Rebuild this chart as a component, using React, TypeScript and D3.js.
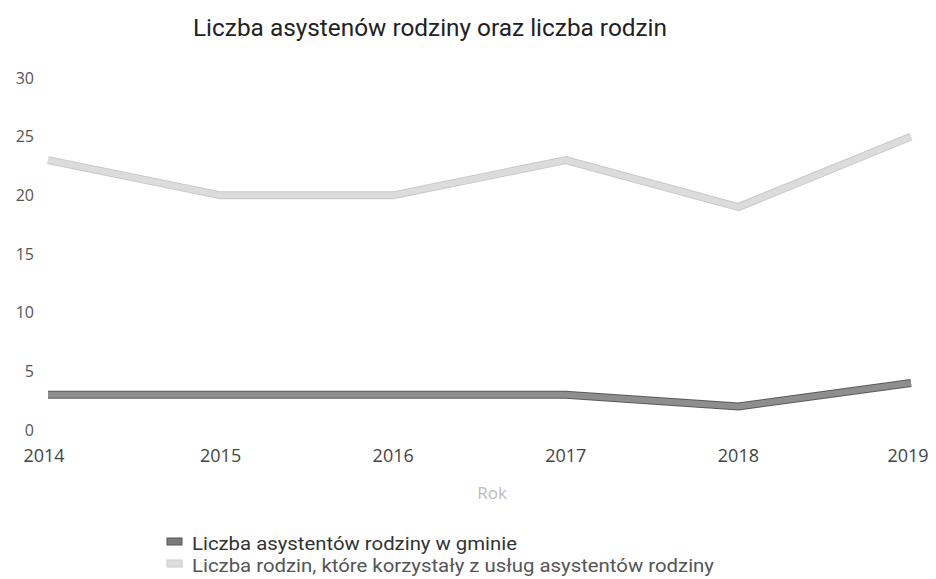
import React from "react";
import * as d3 from "d3";

const years = [2014, 2015, 2016, 2017, 2018, 2019];
const asystenci = [3, 3, 3, 3, 2, 4];
const rodziny = [23, 20, 20, 23, 19, 25];
const yTicks = [0, 5, 10, 15, 20, 25, 30];
const seriesNames = [
  "Liczba asystentów rodziny w gminie",
  "Liczba rodzin, które korzystały z usług asystentów rodziny",
];

const W = 936;
const H = 579;

export default function App() {
  const x = d3.scalePoint<number>().domain(years).range([48, 911]);
  const y = d3.scaleLinear().domain([0, 30]).range([430, 78]);
  const line = d3
    .line<number>()
    .x((_, i) => x(years[i])!)
    .y((d) => y(d));
  const font = "'Open Sans', 'DejaVu Sans', sans-serif";
  return (
    <svg
      width={W}
      height={H}
      style={{ position: "absolute", left: 0, top: 0, background: "#fff" }}
      fontFamily={font}
    >
      <text
        x={430}
        y={36}
        textAnchor="middle"
        fontSize={24}
        fill="#222"
        fontFamily="Roboto, sans-serif"
        textLength={474}
        lengthAdjust="spacingAndGlyphs"
      >
        Liczba asystenów rodziny oraz liczba rodzin
      </text>
      {yTicks.map((t) => (
        <text key={t} x={34} y={y(t)} dy="0.35em" textAnchor="end" fontSize={16} fill="#555">
          {t}
        </text>
      ))}
      {years.map((yr) => (
        <text key={yr} x={x(yr)! - (yr === 2014 ? 4 : yr === 2019 ? 3 : 0)} y={462} textAnchor="middle" fontSize={18} fill="#444">
          {yr}
        </text>
      ))}
      <text x={492} y={499} textAnchor="middle" fontSize={17} fill="#bbb">
        Rok
      </text>
      <path d={line(rodziny)!} fill="none" stroke="#c9c9c9" strokeWidth={8} />
      <path d={line(rodziny)!} fill="none" stroke="#dcdcdc" strokeWidth={6} />
      <path d={line(asystenci)!} fill="none" stroke="#5a5a5a" strokeWidth={8} />
      <path d={line(asystenci)!} fill="none" stroke="#8e8e8e" strokeWidth={6} />
      <g fontFamily="Roboto, sans-serif" fontSize={19}>
        <rect x={167} y={538} width={15} height={7} fill="#7a7a7a" stroke="#555" strokeWidth={1} />
        <text x={192} y={550} fill="#333" textLength={325} lengthAdjust="spacingAndGlyphs">
          {seriesNames[0]}
        </text>
        <rect x={167} y={560} width={15} height={7} fill="#ddd" stroke="#ccc" strokeWidth={1} />
        <text x={192} y={572} fill="#555" textLength={522} lengthAdjust="spacingAndGlyphs">
          {seriesNames[1]}
        </text>
      </g>
    </svg>
  );
}
